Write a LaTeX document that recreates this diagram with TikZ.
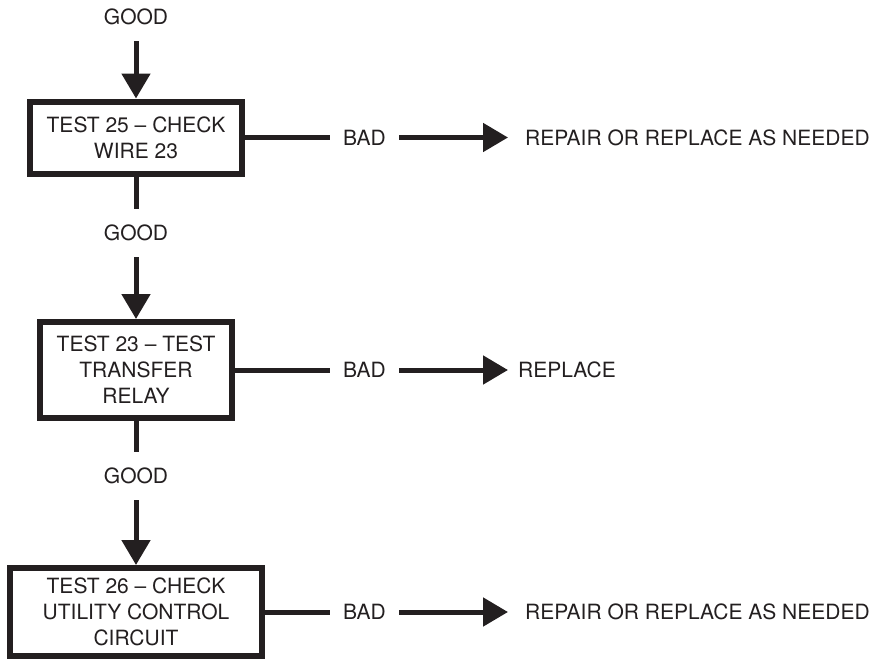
\documentclass[tikz,border=0pt]{standalone}
\usepackage{fontspec}
\setmainfont{TeX Gyre Heros}
\usetikzlibrary{arrows.meta,positioning}
\definecolor{ink}{RGB}{35,31,32}

\begin{document}
\begin{tikzpicture}[x=1pt,y=-1pt,
  every node/.style={font=\fontsize{21}{26}\selectfont,text=ink},
  testbox/.style={draw=ink,line width=6pt,align=center,inner sep=0pt},
  lbl/.style={inner sep=0pt,outer xsep=13.5pt,outer ysep=16pt},
  result/.style={anchor=west,inner sep=0pt},
  wire/.style={draw=ink,line width=5pt},
  flow/.style={wire,-{Triangle[length=25pt,width=28pt]}}]
\useasboundingbox (0,0) rectangle (872,659);

% first test
\node[lbl] (good1) at (136,17) {GOOD};
\node[testbox,minimum width=212pt,minimum height=72pt] (test25) at (136,137.5)
  {TEST 25 -- CHECK\\WIRE 23};
\node[lbl] (bad1) at (364.5,137.5) {BAD};
\node[result] (fix1) at (525,137.5) {REPAIR OR REPLACE AS NEEDED};

% second test
\node[lbl] (good2) at (136,233) {GOOD};
\node[testbox,minimum width=192pt,minimum height=96pt] (test23) at (136,370)
  {TEST 23 -- TEST\\TRANSFER\\RELAY};
\node[lbl] (bad2) at (364.5,370) {BAD};
\node[result] (fix2) at (518,370) {REPLACE};

% third test
\node[lbl] (good3) at (136,476) {GOOD};
\node[testbox,minimum width=252pt,minimum height=88pt] (test26) at (136,612)
  {TEST 26 -- CHECK\\UTILITY CONTROL\\CIRCUIT};
\node[lbl] (bad3) at (364.5,612) {BAD};
\node[result] (fix3) at (525,612) {REPAIR OR REPLACE AS NEEDED};

% good path down the left
\draw[flow] (good1) -- (test25);
\draw[wire] (test25) -- (good2);
\draw[flow] (good2) -- (test23);
\draw[wire] (test23) -- (good3);
\draw[flow] (good3) -- (test26);

% bad branches to the right
\draw[wire] (test25) -- (bad1);
\draw[flow,shorten >=17pt] (bad1) -- (fix1);
\draw[wire] (test23) -- (bad2);
\draw[flow,shorten >=10pt] (bad2) -- (fix2);
\draw[wire] (test26) -- (bad3);
\draw[flow,shorten >=17pt] (bad3) -- (fix3);
\end{tikzpicture}
\end{document}
